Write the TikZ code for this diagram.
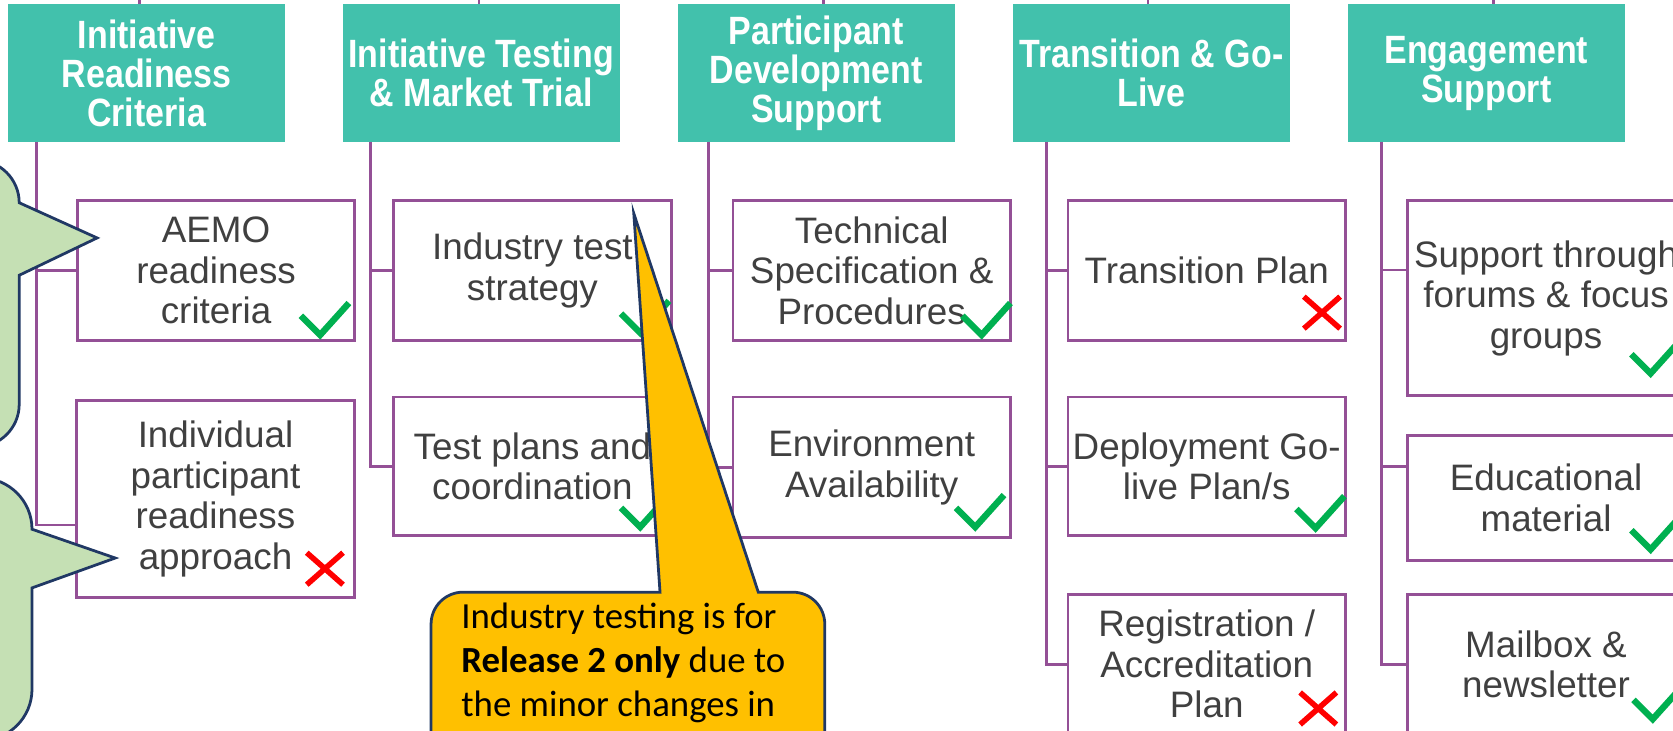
\documentclass[tikz,border=0pt]{standalone}
\usepackage{fontspec}
\setmainfont{Liberation Sans}
\newfontfamily\headfont{Liberation Sans}[FakeStretch=0.86]
\newfontfamily\notefont{Carlito}
\usetikzlibrary{calc, positioning}
\definecolor{headteal}{HTML}{42C1AC}
\definecolor{linkpurple}{RGB}{148,80,150}
\definecolor{textgrey}{HTML}{404040}
\definecolor{calloutgreen}{HTML}{C5E0B4}
\definecolor{calloutline}{HTML}{203864}
\definecolor{noteyellow}{HTML}{FFC000}
\definecolor{okgreen}{HTML}{00B050}
\tikzstyle{head} = [rectangle, fill=headteal, minimum width=130pt, minimum height=64.5pt, inner sep=0pt, align=center, text=white, font=\headfont\bfseries\fontsize{18.5}{18.3}\selectfont]
\tikzstyle{item} = [rectangle, draw=linkpurple, line width=1.3pt, fill=white, minimum width=130pt, inner sep=0pt, align=center, text=textgrey, font=\fontsize{17.25}{19}\selectfont]
\tikzstyle{link} = [draw=linkpurple, line width=1.3pt]
\tikzstyle{okline} = [okgreen, line width=3pt]
\tikzstyle{noline} = [red, line width=2.6pt]
\tikzstyle{greenballoon} = [fill=calloutgreen, draw=calloutline, line width=1.3pt]
\tikzstyle{yellowballoon} = [fill=noteyellow, draw=calloutline, line width=1.3pt]
\tikzstyle{note} = [align=left, inner sep=0pt, text=black, font=\notefont\fontsize{17.25}{20.5}\selectfont]
\newcommand{\okmark}[1]{\draw[okline] (#1) ++(-18,-18) -- (#1) -- ++(27,-30);}
\newcommand{\nomark}[1]{\draw[noline] (#1) ++(-17,-15) -- ++(34,30) (#1) ++(17,-15) -- ++(-34,30);}

\begin{document}
\begin{tikzpicture}[x=0.5pt, y=-0.5pt]
\useasboundingbox (0,0) rectangle (1568,685);
\clip (0,0) rectangle (1568,685);

  % column heads
  \node[head] (h1) at (137.5,68.5) {Initiative\\Readiness\\Criteria};
  \node[head] (h2) at (451,68.5) {Initiative Testing\\\& Market Trial};
  \node[head] (h3) at (765,68.5) {Participant\\Development\\Support};
  \node[head] (h4) at (1079,68.5) {Transition \& Go-\\Live};
  \node[head] (h5) at (1393,68.5) {Engagement\\Support};

  \draw[link] ([xshift=-3.25pt]h1.north) -- ++(0,-20);
  \draw[link] ([xshift=-1pt]h2.north) -- ++(0,-20);
  \draw[link] ([xshift=3.5pt]h3.north) -- ++(0,-20);
  \draw[link] ([xshift=-1.5pt]h4.north) -- ++(0,-20);
  \draw[link] ([xshift=3.5pt]h5.north) -- ++(0,-20);

  \coordinate (t1) at (34,133);
  \coordinate (t2) at (347,133);
  \coordinate (t3) at (664,133);
  \coordinate (t4) at (981,133);
  \coordinate (t5) at (1295,133);

  % items
  \node[item, minimum height=65.5pt] (a1) at (202.5,253.5) {AEMO\\readiness\\criteria};
  \node[item, minimum height=92.5pt] (a2) at (202,467.5) {Individual\\participant\\readiness\\approach};
  \node[item, minimum height=65.5pt] (b1) at (499,253.5) {Industry test\\strategy};
  \node[item, minimum height=65pt] (b2) at (499,437) {Test plans and\\coordination};
  \node[item, minimum height=65.5pt] (c1) at (817,253.5) {Technical\\Specification \&\\Procedures};
  \node[item, minimum height=66pt] (c2) at (817,438) {Environment\\Availability};
  \node[item, minimum height=65.5pt] (d1) at (1131,253.5) {Transition Plan};
  \node[item, minimum height=65pt] (d2) at (1131,437) {Deployment Go-\\live Plan/s};
  \node[item, minimum height=65.5pt] (d3) at (1131,622.5) {Registration /\\Accreditation\\Plan};
  \node[item, minimum height=91.5pt] (e1) at (1449,279.5) {Support through\\forums \& focus\\groups};
  \node[item, minimum height=58.5pt] (e2) at (1449,466.5) {Educational\\material};
  \node[item, minimum height=65.5pt] (e3) at (1449,622.5) {Mailbox \&\\newsletter};

  % connectors
  \draw[link] (t1) |- (a1.west);
  \draw[link] (t1) |- ([yshift=-12.25pt]a2.west);
  \draw[link] (t2) |- (b1.west);
  \draw[link] (t2) |- (b2.west);
  \draw[link] (t3) |- (c1.west);
  \draw[link] (t3) |- (c2.west);
  \draw[link] (t4) |- (d1.west);
  \draw[link] (t4) |- (d2.west);
  \draw[link] (t4) |- (d3.west);
  \draw[link] (t5) |- ([yshift=13.25pt]e1.west);
  \draw[link] (t5) |- ([yshift=14.75pt]e2.west);
  \draw[link] (t5) |- (e3.west);

  % status marks
  \okmark{300,314}
  \nomark{304.5,533}
  \okmark{600,312}
  \okmark{600,494}
  \okmark{920,314}
  \okmark{914,494}
  \nomark{1239,293}
  \okmark{1233,495}
  \nomark{1235.5,664}
  \okmark{1547,350}
  \okmark{1547,515}
  \okmark{1549,674}

  % callouts
  \draw[greenballoon] (-200,150) -- (-22,150) .. controls (0,150) and (18,168) .. (18,190) -- (91,223) -- (18,258) -- (18,379) .. controls (18,401) and (0,419) .. (-22,419) -- (-200,419) -- cycle;
  \draw[greenballoon] (-200,448) -- (-18,448) .. controls (8.5,448) and (30,469.5) .. (30,496) -- (108,523) -- (30,551) -- (30,646) .. controls (30,672.5) and (8.5,694) .. (-18,694) -- (-200,694) -- cycle;
  \draw[yellowballoon] (404,800) -- (404,585) .. controls (404,568.4) and (417.4,555) .. (434,555) -- (618.6,555) -- (594,200) -- (710.7,555) -- (743,555) .. controls (759.6,555) and (773,568.4) .. (773,585) -- (773,800) -- cycle;
  \node[note, anchor=north west] (msg) at (432,565) {Industry testing is for\\\textbf{Release 2 only} due to\\the minor changes in};

\end{tikzpicture}
\end{document}
